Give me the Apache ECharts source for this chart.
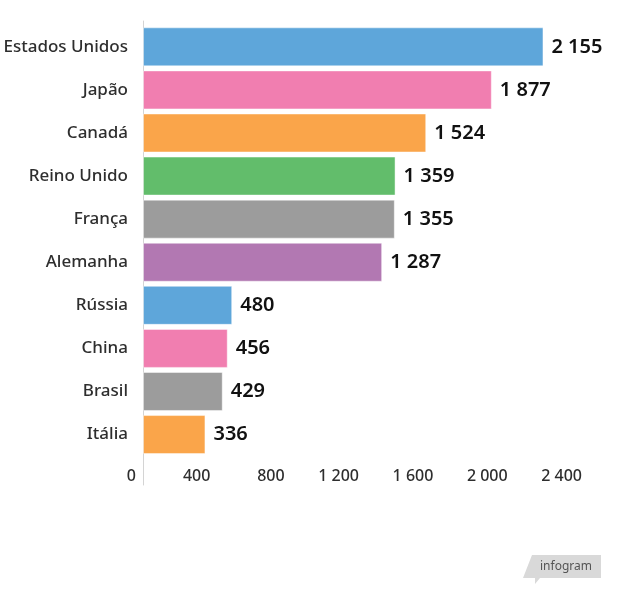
<!DOCTYPE html>
<html>
<head>
<meta charset="utf-8">
<script src="https://cdn.jsdelivr.net/npm/echarts@6/dist/echarts.min.js"></script>
<style>
  html, body { margin: 0; padding: 0; background: #fff; }
  #chart { width: 633px; height: 600px; }
</style>
</head>
<body>
<div id="chart"></div>
<script>
// dados
const countries = ['Estados Unidos', 'Japão', 'Canadá', 'Reino Unido', 'França', 'Alemanha', 'Rússia', 'China', 'Brasil', 'Itália'];
const values = [2155, 1877, 1524, 1359, 1355, 1287, 480, 456, 429, 336];
const barColors = ['#5ea6da', '#f17eb0', '#faa54a', '#62bd6b', '#9c9c9c', '#b278b2', '#5ea6da', '#f17eb0', '#9c9c9c', '#faa54a'];

// "1 200" style
function fmt(v) {
  return String(v).replace(/\B(?=(\d{3})+(?!\d))/g, ' ');
}

const chart = echarts.init(document.getElementById('chart'));

const option = {
  animation: false,
  textStyle: { fontFamily: 'Noto Sans' },
  grid: [
    { left: 143, width: 446, top: 25.3, height: 430.8 }, // barras
    { left: 143, width: 446, top: 21, height: 464 }      // so a linha vertical
  ],
  xAxis: [
    {
      gridIndex: 0,
      type: 'value',
      min: 0,
      max: 2400,
      interval: 400,
      splitLine: { show: false },
      axisLine: { show: false },
      axisTick: { show: false },
      axisLabel: {
        align: 'right',
        padding: [0, 7, 0, 0],
        margin: 12,
        fontSize: 16,
        fontWeight: 500,
        color: '#2e2e2e',
        showMaxLabel: true,
        formatter: fmt
      }
    },
    { gridIndex: 1, type: 'value', show: false, min: 0, max: 1 }
  ],
  yAxis: [
    {
      gridIndex: 0,
      type: 'category',
      data: countries,
      inverse: true,
      axisLine: { show: false },
      axisTick: { show: false },
      axisLabel: { margin: 15, fontSize: 17, fontWeight: 500, color: '#2e2e2e' }
    },
    {
      gridIndex: 1,
      type: 'value',
      min: 0,
      max: 1,
      axisLine: { show: true, lineStyle: { color: '#d4d4d4', width: 1 } },
      axisTick: { show: false },
      axisLabel: { show: false },
      splitLine: { show: false }
    }
  ],
  series: [{
    type: 'bar',
    xAxisIndex: 0,
    yAxisIndex: 0,
    barCategoryGap: '9.5%',
    data: values.map((v, i) => ({
      value: v,
      itemStyle: { color: barColors[i] }
    })),
    itemStyle: { borderColor: 'rgba(255,255,255,0.45)', borderWidth: 1 },
    label: {
      show: true,
      position: 'right',
      distance: 8,
      fontSize: 20,
      fontWeight: 600,
      color: '#111',
      formatter: p => fmt(p.value)
    }
  }],
  graphic: [
    {
      type: 'polygon',
      shape: { points: [[532, 555], [601, 555], [601, 578], [540, 578], [535, 584], [535, 578], [523, 578]] },
      style: { fill: '#d9d9d9' }
    },
    {
      type: 'text',
      x: 566,
      y: 567,
      style: { text: 'infogram', fill: '#555', font: '12px "Noto Sans"', align: 'center', verticalAlign: 'middle' }
    }
  ]
};

chart.setOption(option);
</script>
</body>
</html>
